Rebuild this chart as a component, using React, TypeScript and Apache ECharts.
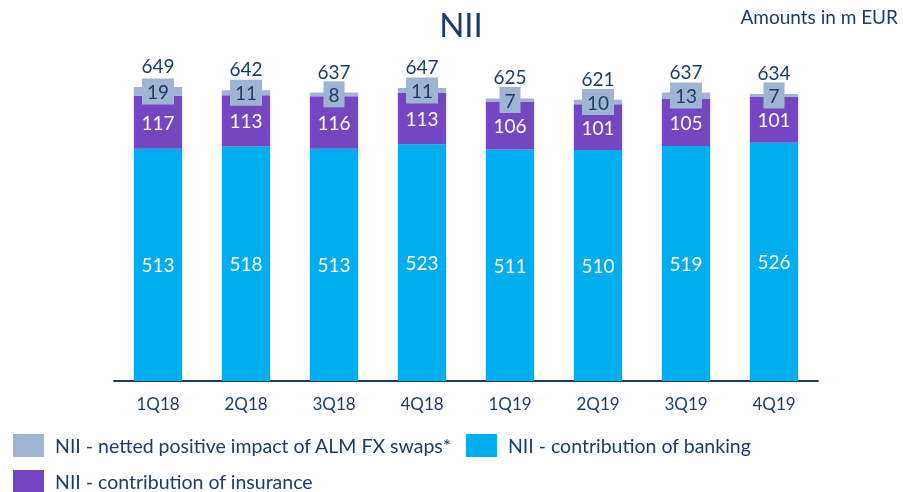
import React, { useEffect, useRef } from "react";
import * as echarts from "echarts";

const categories = ["1Q18", "2Q18", "3Q18", "4Q18", "1Q19", "2Q19", "3Q19", "4Q19"];
const banking = [513, 518, 513, 523, 511, 510, 519, 526];
const insurance = [117, 113, 116, 113, 106, 101, 105, 101];
const almSwaps = [19, 11, 8, 11, 7, 10, 13, 7];
const totals = [649, 642, 637, 647, 625, 621, 637, 634];

const NAME_ALM = "NII - netted positive impact of ALM FX swaps*";
const NAME_BANK = "NII - contribution of banking";
const NAME_INS = "NII - contribution of insurance";

const NAVY = "#1C3D6B";
const FONT = "Lato, 'Open Sans', sans-serif";

export default function App() {
  const ref = useRef<HTMLDivElement>(null);
  useEffect(() => {
    if (!ref.current) return;
    const chart = echarts.init(ref.current, null, { renderer: "svg" });
    const legendText = { fontSize: 19.5, color: NAVY, fontFamily: FONT, padding: [0, 0, 0, 6] };
    chart.setOption({
      animation: false,
      textStyle: { fontFamily: FONT },
      title: [
        {
          text: "NII",
          left: 461,
          top: 7,
          padding: 0,
          textAlign: "center",
          textStyle: { fontSize: 33, fontWeight: "normal", color: NAVY, fontFamily: FONT },
        },
        {
          text: "Amounts in m EUR",
          right: 5,
          top: 7,
          padding: 0,
          textStyle: { fontSize: 19, fontWeight: "normal", color: NAVY, fontFamily: FONT },
        },
      ],
      legend: [
        {
          data: [NAME_ALM, NAME_BANK],
          left: 13,
          top: 434,
          padding: 0,
          itemWidth: 31,
          itemHeight: 23,
          itemGap: 14,
          icon: "rect",
          textStyle: legendText,
        },
        {
          data: [NAME_INS],
          left: 13,
          top: 470,
          padding: 0,
          itemWidth: 31,
          itemHeight: 22,
          icon: "rect",
          textStyle: legendText,
        },
      ],
      grid: { left: 114, right: 85, top: 64, bottom: 111 },
      xAxis: {
        type: "category",
        data: categories,
        axisLine: { lineStyle: { color: NAVY, width: 2 } },
        axisTick: { show: false },
        axisLabel: { fontSize: 17, color: NAVY, margin: 14, fontFamily: FONT },
      },
      yAxis: {
        type: "value",
        min: 0,
        max: 700,
        show: false,
        splitLine: { show: false },
      },
      series: [
        {
          name: NAME_BANK,
          type: "bar",
          stack: "nii",
          barCategoryGap: "45%",
          data: banking,
          itemStyle: { color: "#00AEEF" },
          label: { show: true, position: "inside", color: "#fff", fontSize: 19, fontFamily: FONT },
        },
        {
          name: NAME_INS,
          type: "bar",
          stack: "nii",
          data: insurance,
          itemStyle: { color: "#7446C2" },
          label: { show: true, position: "inside", color: "#fff", fontSize: 19, fontFamily: FONT },
        },
        {
          name: NAME_ALM,
          type: "bar",
          stack: "nii",
          data: almSwaps,
          itemStyle: { color: "#A1B3D3" },
          label: {
            show: true,
            position: "inside",
            color: NAVY,
            fontSize: 19,
            fontFamily: FONT,
            backgroundColor: "#A1B3D3",
            padding: [4, 5, 3, 5],
          },
        },
        {
          name: "total",
          type: "bar",
          stack: "nii",
          data: totals.map(() => 0),
          itemStyle: { color: "transparent" },
          label: {
            show: true,
            position: "top",
            distance: 12,
            color: NAVY,
            fontSize: 19,
            fontFamily: FONT,
            formatter: (p: any) => String(totals[p.dataIndex]),
          },
        },
      ],
    });
    return () => chart.dispose();
  }, []);
  return (
    <div
      ref={ref}
      style={{ position: "fixed", left: 0, top: 0, width: 903, height: 492 }}
    />
  );
}
